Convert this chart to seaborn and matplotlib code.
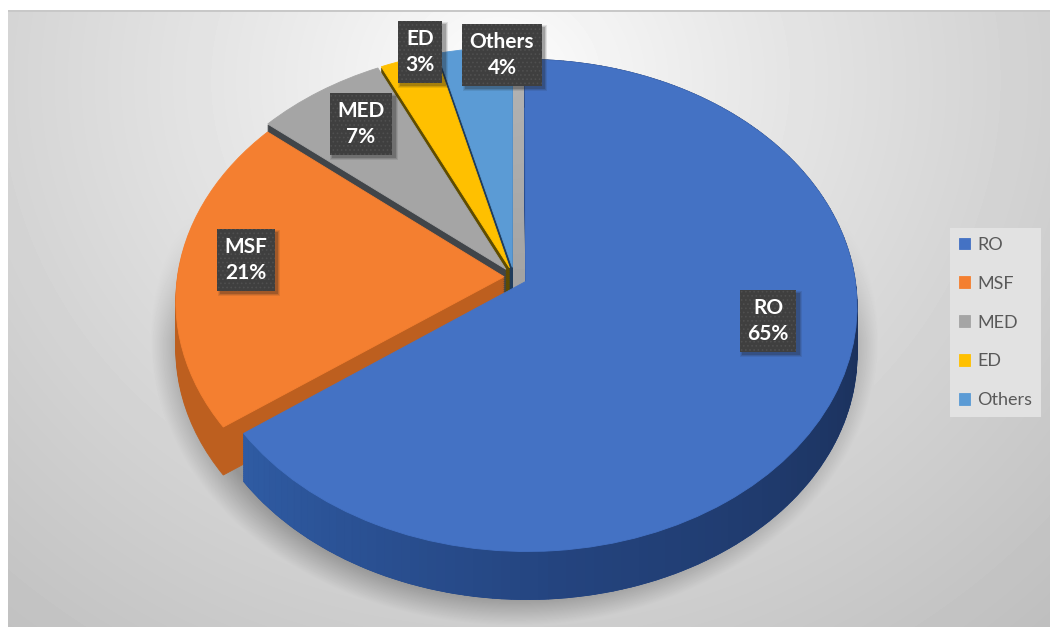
import numpy as np
import seaborn as sns
import matplotlib
matplotlib.use("Agg")
import matplotlib.pyplot as plt
from matplotlib import transforms as mtrans
from matplotlib.collections import PolyCollection
from matplotlib.colors import LinearSegmentedColormap
from matplotlib.patches import Rectangle

categories = ["RO", "MSF", "MED", "ED", "Others"]
values = [65, 21, 7, 3, 4]
top_colors = ["#4472c4", "#f47f30", "#a5a5a5", "#ffc000", "#5b9bd5"]
wall_colors = ["#2a4d8f", "#bd5f1f", "#414549", "#5f4c00", "#1f3c5c"]
label_px = [(768, 321), (246, 260), (361, 124), (420, 52), (502, 55)]

W, H = 1050, 627
HUB_X, HUB_Y, RX, RY, K = 514.0, 277.0, 330.0, 243.6, 0.0976
DEPTH = 48.0 / RY
EXPLODE = [0.04, 0.03, 0.04, 0.04, 0.04]
RADII = [0.997, 0.99, 1.0, 1.0, 1.0]

sns.set_theme(style="white")
plt.rcParams["font.family"] = ["Lato", "DejaVu Sans"]
plt.rcParams["hatch.linewidth"] = 0.7

fig = plt.figure(figsize=(W / 100, H / 100), dpi=100, facecolor="white")

# ----- backdrop: soft gradient plus floor shadow
bg = fig.add_axes([0, 0, 1, 1], zorder=0)
yy, xx = np.mgrid[0:H, 0:W]
r = np.sqrt(((xx - 500) / 600.0) ** 2 + ((yy - 80) / 550.0) ** 2)
base = 255 - 50 * r ** 0.85
rs = np.sqrt(((xx - 514) / 364.0) ** 2 + ((yy - 338) / 287.0) ** 2)
shade = np.clip((1.0 - rs) / 0.11, 0, 1)
fade = np.clip((yy - 210) / 130.0, 0, 1)
shade = np.where(rs < 0.89, shade, shade * fade)
base = base * (1 - 0.30 * shade)
base[:12, :] = 255
base[10:12, 8:] = 200
base[:, :8] = 255
bg.imshow(base, cmap="gray", vmin=0, vmax=255, extent=(0, W, H, 0), aspect="auto",
          interpolation="bilinear")
bg.axis("off")

# ----- pie
ax = fig.add_axes([0, 0, 1, 1], zorder=1)


class Perspective(mtrans.Transform):
    input_dims = output_dims = 2
    is_separable = False
    has_inverse = False

    def transform_non_affine(self, pts):
        pts = np.asarray(pts, dtype=float)
        w = 1 + K * pts[:, 1]
        return np.column_stack([pts[:, 0] / w, pts[:, 1] / w])


persp = Perspective()
order_z = {0: 5, 1: 4, 2: 3, 3: 2, 4: 1}


def draw(colors, drop, offset_z):
    wedges, _ = ax.pie(values, colors=colors, startangle=90, counterclock=False,
                       explode=EXPLODE, radius=1.0,
                       wedgeprops=dict(linewidth=0.6, edgecolor=None))
    tr = persp + mtrans.Affine2D().translate(0, -drop) + ax.transData
    for i, w in enumerate(wedges):
        w.set_radius(RADII[i])
        w.set_transform(tr)
        w.set_edgecolor(colors[i])
        w.set_zorder(order_z[i] + offset_z)
    return wedges


for d in np.linspace(DEPTH, 0.0, 25)[:-1]:
    draw(wall_colors, d, 0.0)
top_wedges = draw(top_colors, 0.0, 0.5)

# graded rim of the largest slice
fracs = np.cumsum([0] + values) / np.sum(values)
t0, t1 = 90 - 360 * fracs[1], 90 - 360 * fracs[0]
thetas = np.radians(np.linspace(t0, t1, 160))
mid = np.radians((t0 + t1) / 2)
ex, ey = EXPLODE[0] * np.cos(mid), EXPLODE[0] * np.sin(mid)
rim = persp.transform(np.column_stack([RADII[0] * np.cos(thetas) + ex,
                                       RADII[0] * np.sin(thetas) + ey]))
quads = [[rim[i], rim[i + 1], rim[i + 1] - (0, DEPTH), rim[i] - (0, DEPTH)]
         for i in range(len(rim) - 1)]
rim_map = LinearSegmentedColormap.from_list(
    "rim", ["#2f5ba3", "#24447f", "#1d3563", "#18294e", "#16264a"])
rim_cols = rim_map(np.linspace(0, 1, len(quads)))
ax.add_collection(PolyCollection(quads, facecolors=rim_cols, edgecolors=rim_cols,
                                 linewidths=0.6, zorder=5.2))

ax.set_aspect("auto")
ax.set_xlim(-HUB_X / RX, (W - HUB_X) / RX)
ax.set_ylim(-(H - HUB_Y) / RY, HUB_Y / RY)
ax.patch.set_alpha(0)


def to_data(px, py):
    return (px - HUB_X) / RX, (HUB_Y - py) / RY


# ----- labels
texts = []
for (px, py), cat, val in zip(label_px, categories, values):
    x, y = to_data(px, py)
    t = ax.text(x, y, f"{cat}\n{val}%", color="white", zorder=10, ha="center", va="center",
                fontsize=15, fontweight="bold", linespacing=1.42,
                bbox=dict(boxstyle="square,pad=0.36", facecolor="#3f3f3f",
                          edgecolor="#4f4f4f", hatch="....", linewidth=0))
    texts.append(t)

# soft drop shadows behind the label boxes
fig.canvas.draw()
for t in texts:
    bb = t.get_bbox_patch().get_window_extent()
    for grow, alpha in [(2.5, 0.10), (1.5, 0.14), (0.5, 0.22)]:
        ax.add_patch(Rectangle((bb.x0 + 3 - grow, bb.y0 - 3 - grow),
                               bb.width + 2 * grow, bb.height + 2 * grow,
                               transform=mtrans.IdentityTransform(),
                               facecolor="#202020", edgecolor="none", alpha=alpha,
                               zorder=9))

# ----- legend
leg = ax.legend(top_wedges, categories, loc="center left",
                bbox_to_anchor=(950 / W, 1 - 322.5 / H), bbox_transform=fig.transFigure,
                frameon=True, fancybox=False, framealpha=1.0, facecolor="#e2e2e2",
                edgecolor="none", fontsize=13, labelcolor="#595959",
                handlelength=0.6, handleheight=0.6, handletextpad=0.42,
                labelspacing=1.27, borderpad=0.5, borderaxespad=0)
leg.set_zorder(11)

fig.savefig("out.png", dpi=100)
